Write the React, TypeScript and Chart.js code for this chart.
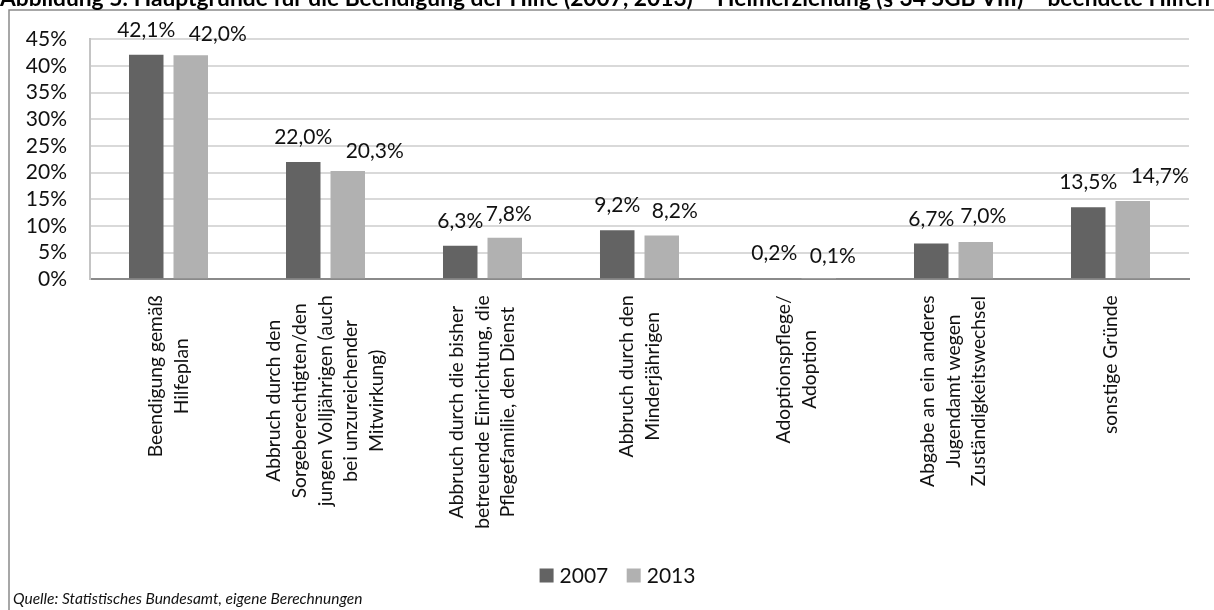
import React, { useEffect, useRef } from "react";
import { Chart, registerables } from "chart.js";

Chart.register(...registerables);

// ---------- data ----------
const CATEGORY_LINES: string[][] = [
  ["Beendigung gemäß", "Hilfeplan"],
  ["Abbruch durch den", "Sorgeberechtigten/den", "jungen Volljährigen (auch", "bei unzureichender", "Mitwirkung)"],
  ["Abbruch durch die bisher", "betreuende Einrichtung, die", "Pflegefamilie, den Dienst"],
  ["Abbruch durch den", "Minderjährigen"],
  ["Adoptionspflege/", "Adoption"],
  ["Abgabe an ein anderes", "Jugendamt wegen", "Zuständigkeitswechsel"],
  ["sonstige Gründe"],
];
const SERIES_NAMES = ["2007", "2013"];
const VALUES_2007 = [42.1, 22.0, 6.3, 9.2, 0.2, 6.7, 13.5];
const VALUES_2013 = [42.0, 20.3, 7.8, 8.2, 0.1, 7.0, 14.7];
const Y_MIN = 0;
const Y_MAX = 45;
const Y_STEP = 5;

const TITLE =
  "Abbildung 5: Hauptgründe für die Beendigung der Hilfe (2007, 2013) – Heimerziehung (§ 34 SGB VIII) – beendete Hilfen";
const SOURCE = "Quelle: Statistisches Bundesamt, eigene Berechnungen";

// ---------- style ----------
const W = 1214;
const H = 610;
const COLORS = ["#636363", "#b1b1b1"];
const FONT = "Lato, 'Open Sans', sans-serif";
const TEXT = "#111111";
// manual label nudges (dx, dy) as in the original layout
const LABEL_NUDGE: [number, number][][] = [
  [[0, 0], [0, 0], [0, 0], [0, 0], [0, 0], [0, 0], [0, 0]],
  [[27, 3.4], [27, 5.3], [4, 1], [13, 0], [14, 2.5], [7.5, -1.4], [27, 0]],
];

const fmt = (v: number) => v.toFixed(1).replace(".", ",") + "%";

const decorPlugin = {
  id: "decor",
  afterDraw(chart: any) {
    const ctx: CanvasRenderingContext2D = chart.ctx;
    const area = chart.chartArea;
    const xScale = chart.scales.x;
    ctx.save();

    // frame
    ctx.strokeStyle = "#8a8a8a";
    ctx.lineWidth = 1.5;
    ctx.beginPath();
    ctx.moveTo(9, H + 2);
    ctx.lineTo(9, 10);
    ctx.lineTo(W + 2, 10);
    ctx.stroke();

    // title (cut off at top, like the source)
    ctx.fillStyle = "#000";
    ctx.textAlign = "left";
    ctx.textBaseline = "alphabetic";
    let ts = 19;
    ctx.font = `bold ${ts}px ${FONT}`;
    const tw = ctx.measureText(TITLE).width;
    ts = (ts * 1211) / tw;
    ctx.font = `bold ${ts}px ${FONT}`;
    ctx.fillText(TITLE, 0, 5.5);

    // value labels
    ctx.font = `21px ${FONT}`;
    ctx.fillStyle = TEXT;
    ctx.textAlign = "center";
    ctx.textBaseline = "alphabetic";
    chart.data.datasets.forEach((ds: any, d: number) => {
      const meta = chart.getDatasetMeta(d);
      meta.data.forEach((bar: any, i: number) => {
        const [dx, dy] = LABEL_NUDGE[d][i];
        ctx.fillText(fmt(ds.data[i]), bar.x + dx, bar.y - 18 + dy);
      });
    });

    // category labels (rotated, centred lines)
    ctx.font = `19.3px ${FONT}`;
    ctx.fillStyle = TEXT;
    ctx.textAlign = "center";
    ctx.textBaseline = "middle";
    const lh = 25.7;
    CATEGORY_LINES.forEach((lines, i) => {
      const x = xScale.getPixelForValue(i);
      const maxW = Math.max(...lines.map((l) => ctx.measureText(l).width));
      ctx.save();
      ctx.translate(x, area.bottom + 16);
      ctx.rotate(-Math.PI / 2);
      lines.forEach((l, j) => {
        ctx.fillText(l, -maxW / 2, (j - (lines.length - 1) / 2) * lh);
      });
      ctx.restore();
    });

    // legend
    ctx.font = `21px ${FONT}`;
    ctx.textAlign = "left";
    ctx.textBaseline = "alphabetic";
    const box = 14;
    const gap = 6;
    const sep = 18.4;
    const widths = SERIES_NAMES.map((n) => ctx.measureText(n).width);
    const total = widths.reduce((a, w) => a + box + gap + w, 0) + sep * (SERIES_NAMES.length - 1);
    let lx = 617.5 - total / 2;
    SERIES_NAMES.forEach((n, k) => {
      ctx.fillStyle = COLORS[k];
      ctx.fillRect(lx, 568.5, box, box);
      ctx.fillStyle = TEXT;
      ctx.fillText(n, lx + box + gap, 583);
      lx += box + gap + widths[k] + sep;
    });

    // source
    ctx.font = `italic 15.5px ${FONT}`;
    ctx.fillStyle = TEXT;
    ctx.fillText(SOURCE, 13, 604);

    ctx.restore();
  },
};

export default function App() {
  const ref = useRef<HTMLCanvasElement | null>(null);

  useEffect(() => {
    if (!ref.current) return;
    const chart = new Chart(ref.current, {
      type: "bar",
      data: {
        labels: CATEGORY_LINES.map((l) => l.join(" ")),
        datasets: [
          {
            label: SERIES_NAMES[0],
            data: VALUES_2007,
            backgroundColor: COLORS[0],
            categoryPercentage: 0.567,
            barPercentage: 0.775,
          },
          {
            label: SERIES_NAMES[1],
            data: VALUES_2013,
            backgroundColor: COLORS[1],
            categoryPercentage: 0.567,
            barPercentage: 0.775,
          },
        ],
      },
      options: {
        responsive: false,
        animation: false,
        devicePixelRatio: 1,
        layout: { padding: { left: 0, top: 39.3, right: 25, bottom: 0 } },
        plugins: {
          legend: { display: false },
          tooltip: { enabled: false },
          title: { display: false },
        },
        scales: {
          x: {
            grid: { display: false, drawTicks: false },
            border: { display: true, color: "#8a8a8a", width: 2 },
            ticks: { display: false },
            afterFit: (s: any) => {
              s.height = H - 279.3;
            },
          },
          y: {
            min: Y_MIN,
            max: Y_MAX,
            ticks: {
              stepSize: Y_STEP,
              autoSkip: false,
              padding: 23,
              color: TEXT,
              font: { family: FONT, size: 21 },
              callback: (v: any) => `${v}%`,
            },
            grid: {
              drawTicks: false,
              lineWidth: 2,
              color: (c: any) => (c.tick && c.tick.value === 0 ? "#8a8a8a" : "#d9d9d9"),
            },
            border: { display: true, color: "#c4c4c4", width: 2 },
            afterFit: (s: any) => {
              s.width = 90;
            },
          },
        },
      },
      plugins: [decorPlugin],
    });
    if ((document as any).fonts && (document as any).fonts.ready) {
      (document as any).fonts.ready.then(() => chart.draw());
    }
    return () => chart.destroy();
  }, []);

  return (
    <div style={{ position: "fixed", left: 0, top: 0, width: W, height: H, background: "#fff", overflow: "hidden" }}>
      <canvas ref={ref} width={W} height={H} style={{ display: "block", width: W, height: H }} />
    </div>
  );
}
